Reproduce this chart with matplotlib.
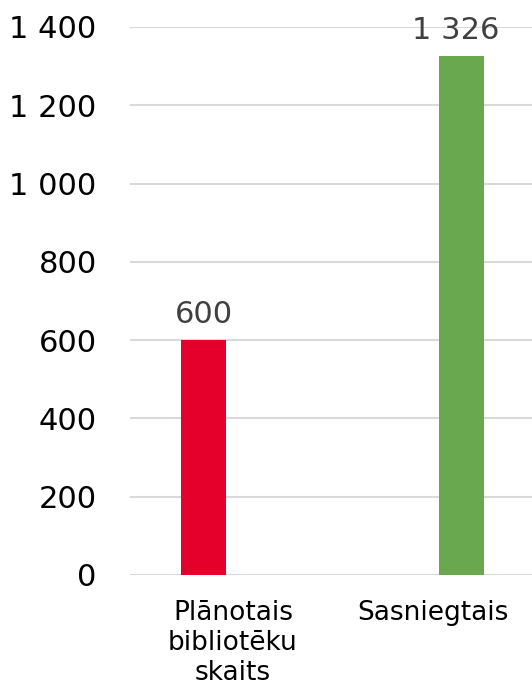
import matplotlib
matplotlib.use("Agg")
import matplotlib.pyplot as plt
from matplotlib.ticker import FuncFormatter

categories = ["Plānotais\nbibliotēku\nskaits", "Sasniegtais"]
values = [600, 1326]
colors = ["#E4002B", "#6AA84F"]
y_ticks = [0, 200, 400, 600, 800, 1000, 1200, 1400]

# bars sit offset inside their category slot (two-series layout)
offsets = [-0.1475, 0.1425]
bar_w = 0.225


def space_thousands(v, pos=None):
    return f"{int(v):,}".replace(",", " ")


plt.rcParams["font.family"] = ["DejaVu Sans"]

fig = plt.figure(figsize=(5.32, 6.90), dpi=100)
ax = fig.add_axes([130 / 532, (690 - 575) / 690, (532 - 130) / 532, (575 - 27) / 690])

xs = [i + o for i, o in enumerate(offsets)]
ax.bar(xs, values, width=bar_w, color=colors, zorder=3)

for x, v in zip(xs, values):
    ax.annotate(space_thousands(v), (x, v), xytext=(-4 if v > 1000 else 0, 12),
                textcoords="offset points", ha="center", va="baseline",
                fontsize=22, color="#404040")

ax.set_ylim(0, 1400)
ax.set_xlim(-0.515, 1.495)
ax.set_yticks(y_ticks)
ax.yaxis.set_major_formatter(FuncFormatter(space_thousands))
ax.set_xticks(range(len(categories)))
ax.set_xticklabels(categories, fontsize=19, linespacing=1.2)
ax.grid(axis="y", color="#D9D9D9", linewidth=1.5, zorder=0)
ax.tick_params(axis="y", length=0, pad=24, labelsize=22, labelcolor="#000000")
ax.tick_params(axis="x", length=0, pad=18, labelcolor="#000000")
for s in ax.spines.values():
    s.set_visible(False)

fig.savefig("out.png", dpi=100)
